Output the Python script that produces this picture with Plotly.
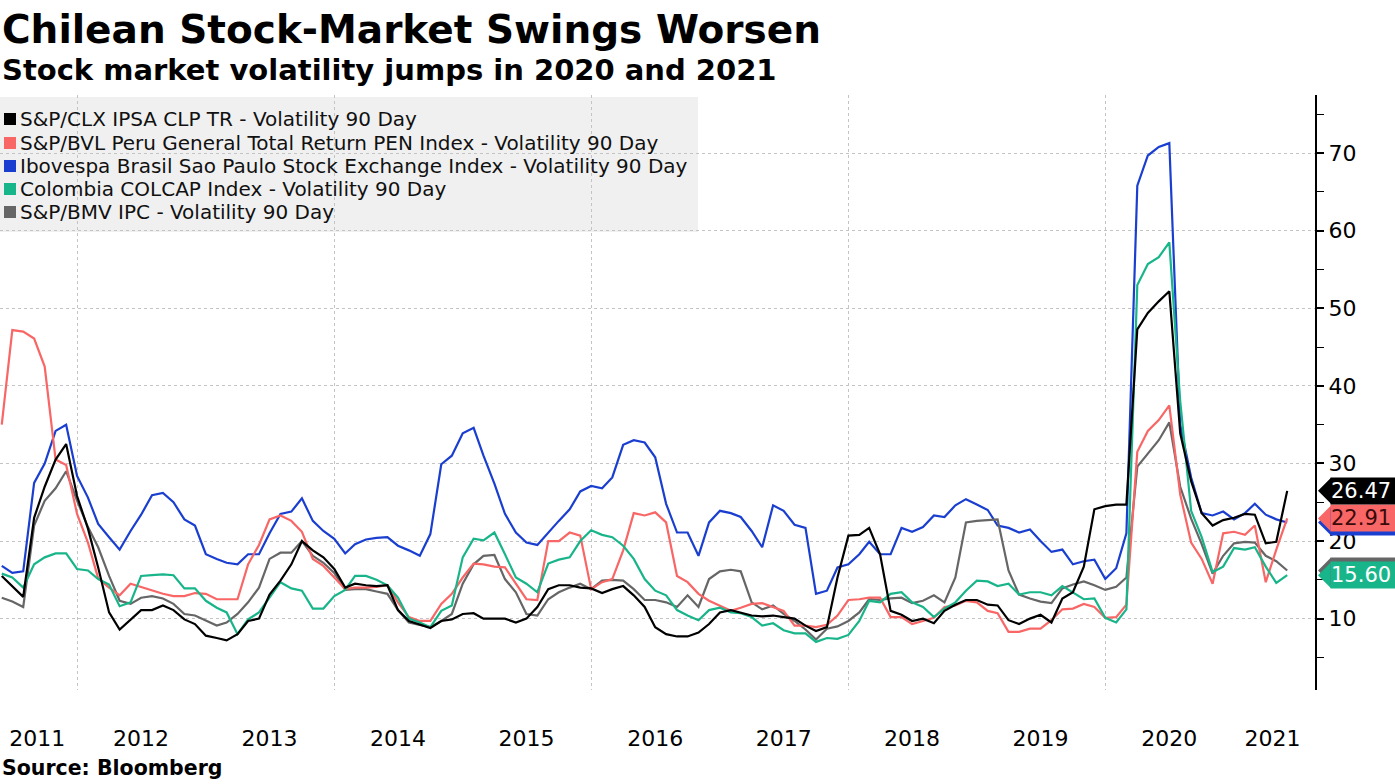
import pandas as pd
import plotly.graph_objects as go

dates = pd.date_range("2011-06-01", "2021-06-01", freq="MS")

names = [
    "S&P/CLX IPSA CLP TR - Volatility 90 Day",
    "S&P/BVL Peru General Total Return PEN Index - Volatility 90 Day",
    "Ibovespa Brasil Sao Paulo Stock Exchange Index - Volatility 90 Day",
    "Colombia COLCAP Index - Volatility 90 Day",
    "S&P/BMV IPC - Volatility 90 Day",
]
colors = ["#000000", "#f86666", "#1a3fd0", "#19b58a", "#666666"]

ipsa = [15.5, 14.2, 12.8, 23, 27, 30.5, 32.5,
        25.8, 21.6, 16.6, 10.8, 8.6, 9.9, 11.1, 11.1, 11.7, 11.1, 9.9, 9.3,
        7.8, 7.5, 7.2, 8, 9.7, 10, 13.1, 14.9, 17, 20, 18.8, 17.9,
        16.4, 14, 14.5, 14.3, 14.2, 14.3, 11.1, 9.7, 9.2, 8.8, 9.7, 9.9,
        10.6, 10.7, 10, 10, 10, 9.5, 10, 11.5, 13.8, 14.3, 14.3, 14,
        13.9, 13.3, 13.8, 14.2, 13, 11.5, 8.9, 8, 7.7, 7.7, 8.2, 9.3,
        10.8, 11.1, 10.8, 10.4, 10.3, 10.4, 10.2, 10, 9.1, 8.4, 8.9, 15.3,
        20.7, 20.8, 21.7, 18.3, 11, 10.5, 9.7, 10, 9.4, 11, 11.8, 12.4,
        12.4, 11.8, 11.7, 9.8, 9.3, 10, 10.5, 9.5, 12.6, 13.4, 16.7, 24.1,
        24.5, 24.7, 24.7, 47.3, 49.4, 50.9, 52.2, 33.9, 27.7, 23.6, 22, 22.7,
        23, 23.5, 23.4, 19.7, 19.9, 26.47]

peru = [35, 47.2, 47, 46.1, 42.5, 30.5, 29.8,
        23.5, 19.8, 15.2, 14, 13, 14.5, 14.1, 13.6, 13.2, 12.9, 12.9, 13.3,
        13.2, 12.5, 12.5, 12.5, 17, 19.5, 22.8, 23.3, 22.6, 21.2, 17.7, 16.8,
        15.3, 13.8, 14, 14, 14.1, 14.3, 12.1, 10.2, 9.7, 9.7, 11.9, 13.2,
        15.3, 17.1, 17, 16.7, 16.6, 14.5, 12.5, 12.4, 20, 20, 21.1, 20.7,
        13.8, 14.7, 15.1, 18.8, 23.6, 23.3, 23.7, 22.4, 15.5, 14.7, 13.2, 12.3,
        11.7, 11, 11.4, 11.9, 12, 11.5, 11, 9.1, 9.1, 8.9, 9.2, 10.4,
        12.4, 12.5, 12.7, 12.7, 10.2, 10.2, 9.3, 9.7, 10.1, 11.5, 11.7, 12.3,
        12.1, 11, 10.7, 8.3, 8.3, 8.7, 8.7, 9.8, 11.2, 11.3, 11.9, 11.5,
        10.1, 10.2, 11.8, 31.5, 34.2, 35.6, 37.5, 26, 19.8, 17.7, 14.5, 21,
        21.2, 20.8, 22, 14.7, 18.9, 22.91]

ibov = [16.8, 15.9, 16.1, 27.5, 30, 34.2, 35,
        28.4, 25.6, 22.2, 20.5, 18.9, 21.3, 23.4, 25.9, 26.2, 25, 22.8, 22,
        18.3, 17.7, 17.2, 17, 18.3, 18.3, 21, 23.5, 23.8, 25.5, 22.6, 21.3,
        20.3, 18.4, 19.6, 20.2, 20.4, 20.5, 19.4, 18.8, 18.1, 20.9, 29.9, 31,
        33.9, 34.6, 31, 27.4, 23.5, 21.1, 19.8, 19.5, 21.1, 22.6, 24.1, 26.4,
        27.1, 26.8, 28.2, 32.4, 33, 32.7, 30.8, 24.8, 21.1, 21.1, 18.1, 22.4,
        23.9, 23.6, 23.1, 21.3, 19.2, 24.6, 23.9, 22.1, 21.7, 13.2, 13.6, 16.6,
        17, 18.3, 19.9, 18.3, 18.3, 21.7, 21.2, 21.8, 23.3, 23.1, 24.6, 25.4,
        24.7, 24, 22, 21.7, 21.1, 21.5, 20, 18.6, 18.9, 17, 17.4, 17.6,
        15.1, 16.5, 21, 65.8, 69.7, 70.8, 71.3, 35, 28.2, 23.6, 23.3, 23.8,
        22.8, 23.6, 24.8, 23.4, 22.8, 22.4]

colcap = [15.8, 15.3, 14, 17, 17.9, 18.4, 18.4,
          16.4, 16.2, 15.1, 14.4, 11.6, 12.1, 15.5, 15.6, 15.7, 15.6, 13.9, 13.9,
          12.3, 11.4, 10.8, 8, 9.9, 10.8, 12.7, 14.7, 13.9, 13.6, 11.3, 11.3,
          12.9, 13.7, 15.5, 15.5, 15, 14.3, 12.7, 10, 9.5, 8.9, 11, 11.7,
          17.9, 20.3, 20.1, 21.1, 18.3, 15.3, 14.5, 13.4, 17.1, 17.6, 17.9, 20,
          21.4, 20.8, 20.5, 19.4, 17.7, 15.1, 13.6, 13, 11.1, 10.4, 9.8, 11.1,
          11.4, 10.8, 10.7, 10.2, 9.1, 9.4, 8.5, 8.1, 8.1, 7, 7.5, 7.4,
          7.9, 9.7, 12.3, 12.1, 13.2, 13.4, 12.1, 11.5, 10.2, 11.3, 12.1, 13.6,
          14.9, 14.8, 14.2, 14.5, 13.1, 13.4, 13.4, 13, 14.2, 13.4, 12.5, 12.6,
          10.1, 9.5, 11.2, 53, 55.7, 56.6, 58.5, 38, 23.9, 20.5, 16, 16.7,
          19.1, 18.9, 19.2, 16.7, 14.6, 15.6]

ipc = [12.7, 12.2, 11.5, 22, 25.2, 26.8, 29,
       25.2, 21.8, 19.2, 15.5, 12.3, 11.9, 12.7, 12.9, 12.6, 11.9, 10.6, 10.4,
       9.7, 9.1, 9.5, 10.6, 12.1, 14, 17.7, 18.5, 18.5, 20, 18.1, 17.2,
       15.9, 13.7, 13.8, 13.8, 13.5, 13.2, 11.1, 9.5, 9.2, 8.9, 9.7, 10.6,
       14.5, 17, 18.1, 18.2, 15.1, 13.4, 10.6, 10.4, 12.5, 13.4, 14, 14.5,
       13.8, 14.9, 15, 14.9, 13.8, 12.4, 12.4, 12.1, 11.5, 13, 11.5, 15.1,
       16.1, 16.3, 16.1, 12.1, 11.2, 11.7, 10.6, 9.7, 8.6, 7.3, 8.7, 9,
       9.7, 10.8, 12.5, 12.4, 12.6, 12.7, 12, 12.3, 13, 12.1, 15.3, 22.4,
       22.6, 22.7, 22.8, 16.2, 13.1, 12.6, 12.2, 12, 13.9, 14.4, 14.8, 14.3,
       13.7, 14.1, 15.3, 29.6, 31.3, 33, 35.3, 27, 22.9, 19.6, 15.8, 18.1,
       19.7, 19.9, 19.8, 18.1, 17.4, 16.2]

series = [ipsa, peru, ibov, colcap, ipc]

year_labels = ["2011", "2012", "2013", "2014", "2015", "2016", "2017",
               "2018", "2019", "2020", "2021"]
year_label_pos = ["2011-09-10", "2012-07-01", "2013-07-01", "2014-07-01",
                  "2015-07-01", "2016-07-01", "2017-07-01", "2018-07-01",
                  "2019-07-01", "2020-07-01", "2021-04-20"]
y_ticks = [10, 20, 30, 40, 50, 60, 70]

FONT = "DejaVu Sans"
W, H = 1395, 784
L, R, T, B = 0, 80, 95, 94
PW, PH = W - L - R, H - T - B
YMIN, YMAX = 0.8, 77.5

fig = go.Figure()
# draw order: blue, gray, red, green, black on top
order = [2, 4, 1, 3, 0]
for i in order:
    fig.add_trace(go.Scatter(x=dates, y=series[i], mode="lines", name=names[i],
                             line=dict(color=colors[i], width=2.2),
                             showlegend=False, hoverinfo="skip"))

def px_x(p):
    return (p - L) / PW

def px_y(p):
    return (H - B - p) / PH

shapes = []
annotations = []
# legend background
shapes.append(dict(type="rect", xref="paper", yref="paper",
                   x0=px_x(0), x1=px_x(698), y0=px_y(232), y1=px_y(97),
                   fillcolor="#f0f0f0", line=dict(width=0), layer="below"))
leg_y = [119, 143, 166, 189, 212]
for i, nm in enumerate(names):
    yc = leg_y[i]
    shapes.append(dict(type="rect", xref="paper", yref="paper",
                       x0=px_x(4), x1=px_x(16), y0=px_y(yc + 6), y1=px_y(yc - 6),
                       fillcolor=colors[i], line=dict(width=0), layer="above"))
    annotations.append(dict(text=nm, xref="paper", yref="paper",
                            x=px_x(18), y=px_y(yc), xanchor="left", yanchor="middle",
                            showarrow=False, font=dict(family=FONT, size=20, color="#111")))

# end value labels
units_per_px = (YMAX - YMIN) / PH
half = 13 * units_per_px
label_text_colors = {0: "white", 1: "#3a0a0a", 2: "white", 3: "white", 4: "white"}
for i in [2, 1, 4, 3, 0]:
    v = series[i][-1]
    shapes.append(dict(type="path", xref="paper", yref="y",
                       path=f"M {px_x(1331)},{v + half} L {px_x(1318)},{v} L {px_x(1331)},{v - half} Z",
                       fillcolor=colors[i], line=dict(width=0), layer="above"))
    annotations.append(dict(text=f"{v:.2f}", xref="paper", yref="y",
                            x=px_x(1330), y=v, xanchor="left", yanchor="middle",
                            showarrow=False, width=66, height=26, align="left",
                            bgcolor=colors[i], borderpad=0,
                            font=dict(family=FONT, size=21, color=label_text_colors[i])))

# titles
annotations.append(dict(text="<b>Chilean Stock-Market Swings Worsen</b>", xref="paper", yref="paper",
                        x=px_x(0), y=px_y(30), xanchor="left", yanchor="middle", showarrow=False,
                        font=dict(family=FONT, size=39, color="black")))
annotations.append(dict(text="<b>Stock market volatility jumps in 2020 and 2021</b>", xref="paper", yref="paper",
                        x=px_x(0), y=px_y(70), xanchor="left", yanchor="middle", showarrow=False,
                        font=dict(family=FONT, size=29, color="black")))
annotations.append(dict(text="<b>Source: Bloomberg</b>", xref="paper", yref="paper",
                        x=px_x(0), y=px_y(768), xanchor="left", yanchor="middle", showarrow=False,
                        font=dict(family=FONT, size=20.5, color="black")))

fig.update_layout(
    width=W, height=H,
    margin=dict(l=L, r=R, t=T, b=B, autoexpand=False),
    paper_bgcolor="white", plot_bgcolor="white",
    shapes=shapes, annotations=annotations,
    showlegend=False,
    xaxis=dict(range=["2011-05-27", "2021-08-19"], type="date",
               tickvals=year_label_pos, ticktext=year_labels,
               showgrid=False, showline=False, zeroline=False, ticks="",
               ticklabelstandoff=33,
               tickfont=dict(family=FONT, size=22, color="black"),
               minor=dict(dtick="M24", tick0="2012-01-01", showgrid=True,
                          gridcolor="#c4c4c4", griddash="dot", gridwidth=1),
               automargin=False),
    yaxis=dict(range=[YMIN, YMAX], side="right", tickvals=y_ticks,
               showgrid=True, gridcolor="#c4c4c4", griddash="dot", gridwidth=1,
               showline=True, linecolor="black", linewidth=2,
               ticks="outside", ticklen=7, tickwidth=2, tickcolor="black",
               zeroline=False,
               tickfont=dict(family=FONT, size=22, color="black"),
               minor=dict(tickvals=[5, 15, 25, 35, 45, 55, 65, 75], ticks="outside",
                          ticklen=7, tickwidth=1, tickcolor="black", showgrid=False),
               automargin=False),
)

fig.write_html("out.html", config={"displayModeBar": False},
               post_script="document.body.style.margin='0px';document.body.style.overflow='hidden';")
